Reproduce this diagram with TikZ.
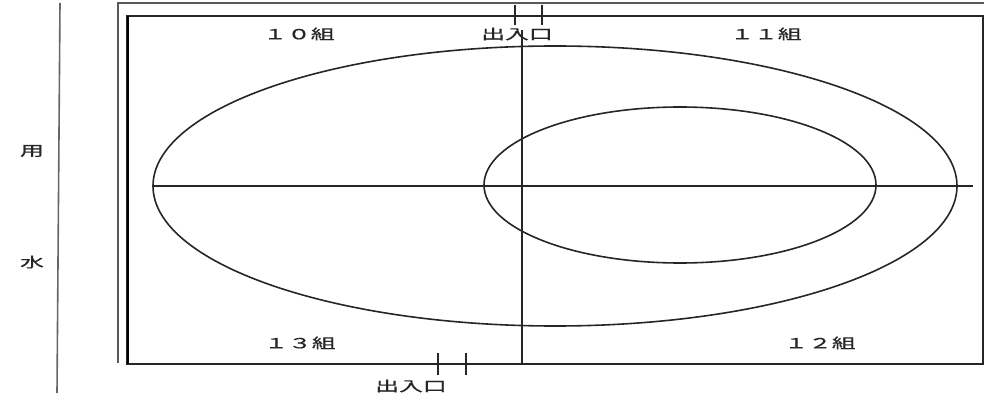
\documentclass[tikz,border=0pt]{standalone}
\usepackage{fontspec}
\newfontfamily\cjk[FakeStretch=1.7,FakeBold=0.6]{Noto Sans CJK JP}

\begin{document}
\begin{tikzpicture}[x=1pt,y=-1pt,font=\cjk\fontsize{14}{16}\selectfont,
    line width=1.2pt, black!85]
    \useasboundingbox (0,0) rectangle (993,395);

    % wall along the water channel
    \draw[line width=1.6pt, black!60] (60,3) -- (57,393);
    \node (yo) at (32,151) {用};
    \node (sui) at (32,262) {水};

    % outer frame and the field
    \draw[line width=1.4pt, black!65] (118,363) -- (118,3) -- (984,3);
    \draw (127,16) rectangle (983,364);
    \draw[line width=2.6pt, black] (128,16) -- (128,364);

    % track
    \draw[line width=1.6pt] (555,186) ellipse (402 and 140);
    \draw[line width=1.6pt] (680,185) ellipse (196 and 78);
    \draw (153,186) -- (973,186);
    \draw[line width=1.5pt] (522,30) -- (522,364);

    % entrances
    \draw (515,5) -- (515,25);
    \draw (542,5) -- (542,25);
    \draw (438,353) -- (438,375);
    \draw (466,353) -- (466,375);
    \node (gateN) at (517,34) {出入口};
    \node (gateS) at (411,386) {出入口};

    % groups
    \node (g10) at (299,34) {１０組};
    \node (g11) at (766,34) {１１組};
    \node (g13) at (300,343) {１３組};
    \node (g12) at (820,343) {１２組};
\end{tikzpicture}
\end{document}
